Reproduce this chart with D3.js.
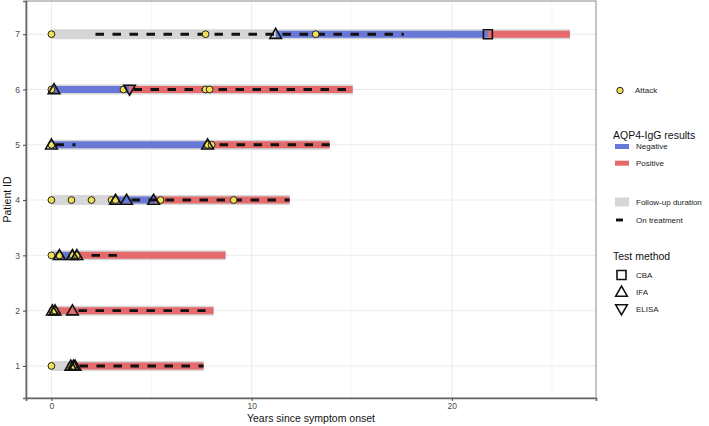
<!DOCTYPE html>
<meta charset="utf-8">

<!-- Load d3.js -->
<script src="https://d3js.org/d3.v7.min.js"></script>

<style>
  body { margin: 0; background: white; }
  text { font-family: "Liberation Sans", Arial, sans-serif; }
</style>

<!-- Create a div where the graph will take place -->
<div id="my_dataviz"></div>

<script>

// ---- data ----
var patients = [1, 2, 3, 4, 5, 6, 7]
var followUpEnd = [7.6, 8.1, 8.7, 11.9, 13.9, 15.05, 25.9]

// AQP4-IgG result periods: patient, start, end, result
var resultId    = [7, 7, 6, 6, 5, 5, 4, 4, 3, 3, 2, 1]
var resultStart = [11.2, 21.8, 0.1, 3.9, 0, 7.9, 3.3, 5.2, 0.2, 1.1, 0.05, 1.05]
var resultEnd   = [21.8, 25.9, 3.9, 15.05, 7.9, 13.9, 5.2, 11.9, 1.1, 8.7, 8.1, 7.6]
var resultType  = ["Negative", "Positive", "Negative", "Positive", "Negative", "Positive",
                   "Negative", "Positive", "Negative", "Positive", "Positive", "Positive"]

// treatment periods
var treatId    = [7, 6, 5, 5, 4, 3, 2, 1]
var treatStart = [2.2, 4.1, 0.2, 8.4, 4.0, 2.0, 1.35, 1.4]
var treatEnd   = [17.6, 15.05, 1.2, 13.9, 11.9, 3.3, 7.7, 7.6]

// attacks
var attackId   = [7, 7, 7, 6, 6, 6, 6, 5, 5, 5, 4, 4, 4, 4, 4, 4, 4, 3, 3, 3, 3, 2, 2, 1, 1, 1]
var attackTime = [0, 7.7, 13.2, 0, 3.6, 7.7, 7.9, 0, 7.8, 8.0, 0, 1.0, 2.0, 3.0, 3.2, 5.45, 9.1,
                  0, 0.4, 1.05, 1.27, 0.05, 0.18, 0, 0.97, 1.1]

// tests
var testId     = [7, 7, 6, 6, 5, 5, 4, 4, 4, 3, 3, 3, 2, 2, 2, 1, 1, 1]
var testTime   = [11.2, 21.8, 0.13, 3.9, 0, 7.8, 3.2, 3.75, 5.1, 0.4, 1.05, 1.27, 0.05, 0.18, 1.05, 0.97, 1.1, 1.18]
var testMethod = ["IFA", "CBA", "IFA", "ELISA", "IFA", "IFA", "IFA", "IFA", "IFA",
                  "IFA", "IFA", "IFA", "IFA", "IFA", "IFA", "IFA", "IFA", "IFA"]

var xTicks = [0, 10, 20]
var xMinor = [5, 15, 25]

var resultColor = { "Negative": "#6878d6", "Positive": "#e46a6c" }
var greyBar = "#d6d6d6"
var attackFill = "#f2df55"

// set the dimensions of the graph
var W = 709, H = 426
var margin = {top: 1, right: 113, bottom: 28, left: 26},
width = W - margin.left - margin.right,
height = H - margin.top - margin.bottom;

var svg = d3.select("#my_dataviz")
.append("svg")
.attr("width", W)
.attr("height", H)

var g = svg.append("g")
.attr("transform", "translate(" + margin.left + "," + margin.top + ")");

// scales
var x = d3.scaleLinear()
.domain([-1.27, 27.2])
.range([0, width])

var y = d3.scaleLinear()
.domain([0.42, 7.6])
.range([height, 0])

// gridlines
g.selectAll(".minorx").data(xMinor).enter().append("line")
.attr("x1", d => x(d)).attr("x2", d => x(d))
.attr("y1", 0).attr("y2", height)
.attr("stroke", "#f2f2f2").attr("stroke-width", 0.6)

g.selectAll(".majorx").data(xTicks).enter().append("line")
.attr("x1", d => x(d)).attr("x2", d => x(d))
.attr("y1", 0).attr("y2", height)
.attr("stroke", "#ebebeb").attr("stroke-width", 1)

g.selectAll(".majory").data(patients).enter().append("line")
.attr("x1", 0).attr("x2", width)
.attr("y1", d => y(d)).attr("y2", d => y(d))
.attr("stroke", "#ebebeb").attr("stroke-width", 1)

// follow-up duration (grey, wider)
g.selectAll(".follow").data(patients).enter().append("line")
.attr("x1", x(0))
.attr("x2", (d, i) => x(followUpEnd[i]))
.attr("y1", d => y(d)).attr("y2", d => y(d))
.attr("stroke", greyBar).attr("stroke-width", 10)

// AQP4-IgG result bars
var results = resultId.map(function(id, i) {
  return {id: id, start: resultStart[i], end: resultEnd[i], type: resultType[i]}
})
g.selectAll(".result").data(results).enter().append("line")
.attr("x1", d => x(d.start)).attr("x2", d => x(d.end))
.attr("y1", d => y(d.id)).attr("y2", d => y(d.id))
.attr("stroke", d => resultColor[d.type]).attr("stroke-width", 7)

// treatment (dashed)
var treats = treatId.map(function(id, i) {
  return {id: id, start: treatStart[i], end: treatEnd[i]}
})
g.selectAll(".treat").data(treats).enter().append("line")
.attr("x1", d => x(d.start)).attr("x2", d => x(d.end))
.attr("y1", d => y(d.id)).attr("y2", d => y(d.id))
.attr("stroke", "#111").attr("stroke-width", 2.9)
.attr("stroke-dasharray", "8.5,8.5")

// attacks
var attacks = attackId.map(function(id, i) { return {id: id, t: attackTime[i]} })
g.selectAll(".attack").data(attacks).enter().append("circle")
.attr("cx", d => x(d.t)).attr("cy", d => y(d.id))
.attr("r", 3.4)
.attr("fill", attackFill).attr("stroke", "#222").attr("stroke-width", 1)

// test symbols (open shapes)
var shapePath = {
  "CBA": "M-4.5,-4.5 L4.5,-4.5 L4.5,4.5 L-4.5,4.5 Z",
  "IFA": "M0,-5.8 L5.8,4.2 L-5.8,4.2 Z",
  "ELISA": "M0,5.8 L5.8,-4.2 L-5.8,-4.2 Z"
}
var tests = testId.map(function(id, i) { return {id: id, t: testTime[i], m: testMethod[i]} })
g.selectAll(".test").data(tests).enter().append("path")
.attr("transform", d => "translate(" + x(d.t) + "," + y(d.id) + ")")
.attr("d", d => shapePath[d.m])
.attr("fill", "none").attr("stroke", "#111").attr("stroke-width", 1.6)
.attr("stroke-linejoin", "miter")

// panel border
g.append("rect")
.attr("x", 0).attr("y", 0).attr("width", width).attr("height", height)
.attr("fill", "none").attr("stroke", "#8a8a8a").attr("stroke-width", 1)

// axes
var xAxis = g.append("g")
.attr("transform", "translate(0," + height + ")")
.call(d3.axisBottom(x).tickValues(xTicks).tickSize(3).tickPadding(2))
xAxis.select(".domain").attr("stroke", "#666").attr("stroke-width", 1.6)
xAxis.selectAll(".tick line").attr("stroke", "#444")
xAxis.selectAll("text").attr("fill", "#4d4d4d").style("font-size", "8.5px")

var yAxis = g.append("g")
.call(d3.axisLeft(y).tickValues(patients).tickFormat(d3.format("d")).tickSize(3).tickPadding(3))
yAxis.select(".domain").attr("stroke", "#666").attr("stroke-width", 1.6)
yAxis.selectAll(".tick line").attr("stroke", "#444")
yAxis.selectAll("text").attr("fill", "#4d4d4d").style("font-size", "8.5px")

// axis titles
svg.append("text")
.attr("x", margin.left + width / 2)
.attr("y", 422)
.attr("text-anchor", "middle")
.style("font-size", "10.5px")
.attr("fill", "#111")
.text("Years since symptom onset")

svg.append("text")
.attr("transform", "translate(11," + (margin.top + height / 2) + ") rotate(-90)")
.attr("text-anchor", "middle")
.style("font-size", "10.5px")
.attr("fill", "#111")
.text("Patient ID")

// ---- legends ----
var lg = svg.append("g")

// Attack
lg.append("circle").attr("cx", 620).attr("cy", 90.5).attr("r", 3.2)
.attr("fill", attackFill).attr("stroke", "#222").attr("stroke-width", 1)
lg.append("text").attr("x", 635).attr("y", 90.5).attr("dominant-baseline", "central")
.style("font-size", "8px").attr("fill", "#222").text("Attack")

// AQP4-IgG results
lg.append("text").attr("x", 613).attr("y", 135).attr("dominant-baseline", "central")
.style("font-size", "10.5px").attr("fill", "#111").text("AQP4-IgG results")
var resKeys = ["Negative", "Positive"]
resKeys.forEach(function(k, i) {
  var yy = 146.5 + i * 16.7
  lg.append("rect").attr("x", 615).attr("y", yy - 2.5).attr("width", 14).attr("height", 5)
  .attr("fill", resultColor[k])
  lg.append("text").attr("x", 636).attr("y", yy).attr("dominant-baseline", "central")
  .style("font-size", "8px").attr("fill", "#222").text(k)
})

// follow-up / treatment
lg.append("rect").attr("x", 615).attr("y", 197.5).attr("width", 14).attr("height", 9)
.attr("fill", greyBar)
lg.append("text").attr("x", 636).attr("y", 202.3).attr("dominant-baseline", "central")
.style("font-size", "8px").attr("fill", "#222").text("Follow-up duration")
lg.append("line").attr("x1", 616).attr("x2", 623).attr("y1", 220).attr("y2", 220)
.attr("stroke", "#111").attr("stroke-width", 2.9)
lg.append("text").attr("x", 636).attr("y", 220).attr("dominant-baseline", "central")
.style("font-size", "8px").attr("fill", "#222").text("On treatment")

// Test method
lg.append("text").attr("x", 613).attr("y", 255.5).attr("dominant-baseline", "central")
.style("font-size", "10.5px").attr("fill", "#111").text("Test method")
var methods = ["CBA", "IFA", "ELISA"]
methods.forEach(function(m, i) {
  var yy = 275 + i * 17
  lg.append("path").attr("transform", "translate(621.5," + yy + ")")
  .attr("d", shapePath[m])
  .attr("fill", "none").attr("stroke", "#111").attr("stroke-width", 1.6)
  lg.append("text").attr("x", 636).attr("y", yy).attr("dominant-baseline", "central")
  .style("font-size", "8px").attr("fill", "#222").text(m)
})

</script>
